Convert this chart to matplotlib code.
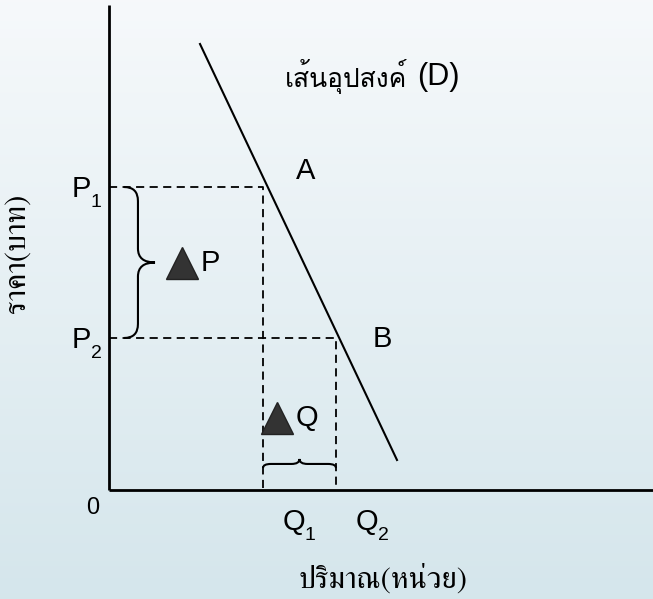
import numpy as np
import matplotlib
matplotlib.use("Agg")
import matplotlib.pyplot as plt
from matplotlib import font_manager
from matplotlib.ft2font import FT2Font
from matplotlib.path import Path
from matplotlib.patches import PathPatch

# values in chart units (origin at the axes corner)
price_levels = [30.3, 15.2]          # P1, P2
price_names = ["P", "P"]
price_subs = ["1", "2"]
quantity_levels = [15.4, 22.7]       # Q1, Q2
quantity_names = ["Q", "Q"]
quantity_subs = ["1", "2"]
demand_q = [9.1, 28.8]
demand_p = [44.6, 3.0]
point_labels = ["A", "B"]
marker_pos = {"P": (7.3, 22.7), "Q": (16.8, 7.2)}
demand_title = "เส้นอุปสงค์"
demand_tag = "(D)"
x_title = "ปริมาณ(หน่วย)"
y_title = "ราคา(บาท)"


def find_thai_fonts():
    found = []
    for f in font_manager.fontManager.ttflist:
        try:
            cmap = FT2Font(f.fname).get_charmap()
        except Exception:
            continue
        if 0x0E40 in cmap and 0x0E2A in cmap and f.name not in found:
            found.append(f.name)
    return found


thai = find_thai_fonts()
thai_serif = [n for n in thai if "Serif" in n] or thai
sans = ["Liberation Sans"] + thai[:1] + ["DejaVu Sans"]
serif = thai_serif[:1] + ["Liberation Serif", "DejaVu Serif"]
plt.rcParams["font.family"] = sans

fig = plt.figure(figsize=(6.53, 5.99), dpi=100)

# background gradient
bg = fig.add_axes([0, 0, 1, 1], zorder=0)
grad = np.linspace(0, 1, 256)[:, None]
top = np.array([0.965, 0.976, 0.984])
bottom = np.array([0.835, 0.902, 0.925])
img = top + (bottom - top) * grad[..., None]
bg.imshow(np.repeat(img, 2, axis=1), aspect="auto", extent=[0, 1, 0, 1])
bg.axis("off")

ax = fig.add_axes([0, 0, 1, 1], zorder=1)
ax.set_xlim(-10.9, 54.4)
ax.set_ylim(-10.9, 49.0)
ax.patch.set_alpha(0)
ax.axis("off")

# axes
ax.plot([0, 0], [0, 48.5], color="black", lw=2.0, solid_capstyle="butt")
ax.plot([0, 54.4], [0, 0], color="black", lw=2.0, solid_capstyle="butt")

# demand curve
ax.plot(demand_q, demand_p, color="black", lw=1.5)

# dashed guides
for p, q in zip(price_levels, quantity_levels):
    ax.plot([0, q, q], [p, p, 0], color="black", lw=1.3, ls=(0, (4.5, 3)))


def sub_label(x, y, name, sub):
    t = ax.text(x, y, name, ha="left", va="baseline", fontsize=21)
    ax.annotate(sub, xy=(1, 0), xycoords=t, xytext=(-0.5, -3),
                textcoords="offset points", ha="left", va="baseline",
                fontsize=14)


for p, n, s in zip(price_levels, price_names, price_subs):
    sub_label(-3.7, p - 1.0, n, s)
for q, n, s in zip(quantity_levels, quantity_names, quantity_subs):
    sub_label(q + 2.0, -4.0, n, s)
ax.text(-1.6, -1.8, "0", ha="center", va="center", fontsize=17)

ax.text(quantity_levels[0] + 4.3, price_levels[0] + 1.6, point_labels[0],
        ha="center", va="center", fontsize=21)
ax.text(quantity_levels[1] + 4.6, price_levels[1] - 0.1, point_labels[1],
        ha="center", va="center", fontsize=21)


def brace(x0, y0, x1, y1, depth, r, vertical):
    # curly brace between (x0,y0) and (x1,y1), bulging by depth
    if vertical:
        ym = (y0 + y1) / 2
        xs = x0 + depth * 0.45
        xt = x0 + depth
        verts = [(x0, y0), (xs, y0), (xs, y0 - r), (xs, y0 - r),
                 (xs, ym + r), (xs, ym), (xt, ym), (xs, ym), (xs, ym - r),
                 (xs, y1 + r), (xs, y1 + r), (xs, y1), (x0, y1)]
    else:
        xm = (x0 + x1) / 2
        ys = y0 + depth * 0.45
        yt = y0 + depth
        verts = [(x0, y0), (x0, ys), (x0 + r, ys), (x0 + r, ys),
                 (xm - r, ys), (xm, ys), (xm, yt), (xm, ys), (xm + r, ys),
                 (x1 - r, ys), (x1 - r, ys), (x1, ys), (x1, y0)]
    codes = [Path.MOVETO, Path.CURVE3, Path.CURVE3, Path.LINETO,
             Path.LINETO, Path.CURVE3, Path.CURVE3, Path.CURVE3, Path.CURVE3,
             Path.LINETO, Path.LINETO, Path.CURVE3, Path.CURVE3]
    return PathPatch(Path(verts, codes), fill=False, lw=1.5, ec="black")


ax.add_patch(brace(1.5, price_levels[0], 1.5, price_levels[1], 3.1, 1.4, True))
ax.add_patch(brace(quantity_levels[0], 2.2, quantity_levels[1], 2.2, 0.9, 0.8, False))

for name, (mx, my) in marker_pos.items():
    ax.plot(mx, my, marker="^", ms=23, color="#333333", mec="#222222", mew=1)
    ax.text(mx + 1.9, my, name, ha="left", va="center", fontsize=21)

ax.text(29.8, 41.3, demand_title, ha="right", va="center", fontsize=19)
ax.text(30.8, 41.3, demand_tag, ha="left", va="center", fontsize=22)
ax.text(27.4, -8.9, x_title, ha="center", va="center", fontsize=22, family=serif)
ax.text(-9.1, 23.7, y_title, ha="center", va="center", fontsize=22,
        rotation=90, family=serif)

fig.savefig("out.png", dpi=100)
